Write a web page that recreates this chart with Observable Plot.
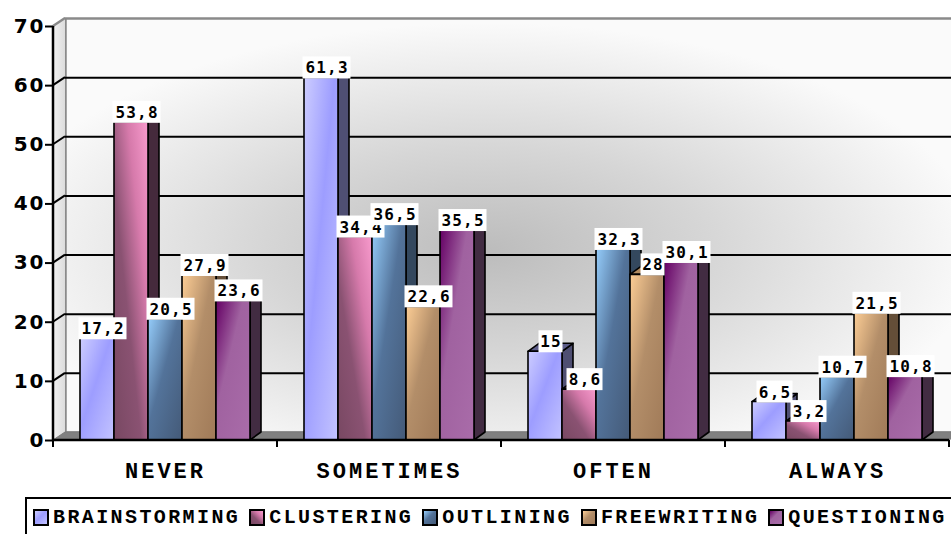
<!DOCTYPE html>
<html>
<head>
<meta charset="utf-8">
<script src="https://cdn.jsdelivr.net/npm/d3@7"></script>
<script src="https://cdn.jsdelivr.net/npm/@observablehq/plot@0.6"></script>
<style>
  html, body { margin: 0; padding: 0; background: #fff; overflow: hidden; width: 951px; height: 534px; }
  #chart svg { display: block; }
  .room [aria-label="y-axis tick label"] text { letter-spacing: 2px; }
  .room [aria-label="fx-axis tick label"] text { letter-spacing: 3px; }
  #legend {
    box-sizing: border-box;
    margin: 3px 0 0 25px;
    width: 960px;
    height: 44px;
    border: 2px solid #000;
    display: flex;
    align-items: flex-start;
    padding: 7px 0 0 6px;
    font: bold 20px "Courier New", "Liberation Mono", monospace;
    letter-spacing: 2.4px;
    color: #000;
    white-space: nowrap;
  }
  #legend .item { display: flex; align-items: center; margin-right: 9px; }
  #legend .swatch { width: 12px; height: 13px; border: 2px solid #000; margin-right: 4px; }
</style>
</head>
<body>
<div id="chart"></div>
<div id="legend"></div>
<script>
// Survey answers: share of students (%) using each prewriting technique
const categories = ["NEVER", "SOMETIMES", "OFTEN", "ALWAYS"];
const series = ["BRAINSTORMING", "CLUSTERING", "OUTLINING", "FREEWRITING", "QUESTIONING"];
const brainstorming = [17.2, 61.3, 15, 6.5];
const clustering = [53.8, 34.4, 8.6, 3.2];
const outlining = [20.5, 36.5, 32.3, 10.7];
const freewriting = [27.9, 22.6, 28, 21.5];
const questioning = [23.6, 35.5, 30.1, 10.8];
const yTicks = [0, 10, 20, 30, 40, 50, 60, 70];

const valuesBySeries = [brainstorming, clustering, outlining, freewriting, questioning];
const rows = categories.flatMap((cat, c) =>
  series.map((s, k) => ({cat, series: s, value: valuesBySeries[k][c]}))
);
const gridTicks = yTicks.slice(1, -1);
const fmt = (v) => String(v).replace(".", ",");

// Shading of each series: gradient on the front face, flat colours on the side and top
const faces = [
  {dir: [0, 0, 1, 1], stops: [[0, "#cdcdff"], [0.45, "#9d9dff"], [1, "#c3c3ff"]], side: "#4f4f73", top: "#5e5e8a"},
  {dir: [1, 0, 0, 1], stops: [[0, "#f89bcd"], [0.3, "#d67aab"], [0.6, "#8a5272"], [1, "#784862"]], side: "#452a3c", top: "#3d2434"},
  {dir: [0, 0, 1, 1], stops: [[0, "#95cdfb"], [0.45, "#53739a"], [1, "#445a78"]], side: "#34485e", top: "#3e5670"},
  {dir: [0, 0, 1, 1], stops: [[0, "#fccd95"], [0.45, "#b38e69"], [1, "#a07a58"]], side: "#644e38", top: "#b08a60"},
  {dir: [0, 0, 1, 1], stops: [[0, "#640064"], [0.4, "#a062a0"], [1, "#a96ca9"]], side: "#422c42", top: "#4a2e4a"}
];

const DX = 12, DY = 8;   // oblique depth of the walls and floor
const BX = 11, BY = 8;   // depth of each column
const svgNS = "http://www.w3.org/2000/svg";
function el(name, attrs = {}) {
  const e = document.createElementNS(svgNS, name);
  for (const k in attrs) e.setAttribute(k, attrs[k]);
  return e;
}
const pts = (p) => p.map((q) => q.join(",")).join(" ");

function gradientDefs() {
  const defs = el("defs");
  faces.forEach((f, k) => {
    const [x1, y1, x2, y2] = f.dir;
    const lg = el("linearGradient", {id: `front-${k}`, x1, y1, x2, y2});
    f.stops.forEach(([o, c]) => lg.appendChild(el("stop", {offset: o, "stop-color": c})));
    defs.appendChild(lg);
  });
  const wall = el("radialGradient", {id: "wall", cx: 0.47, cy: 0.56, r: 0.55});
  [[0, "#bcbcbc"], [0.45, "#d6d6d6"], [1, "#fafafa"]].forEach(([o, c]) =>
    wall.appendChild(el("stop", {offset: o, "stop-color": c})));
  defs.appendChild(wall);
  const side = el("linearGradient", {id: "side-wall", x1: 0, y1: 0, x2: 1, y2: 0});
  [[0, "#f2f2f2"], [1, "#dcdcdc"]].forEach(([o, c]) =>
    side.appendChild(el("stop", {offset: o, "stop-color": c})));
  defs.appendChild(side);
  return defs;
}

// Back wall (the frame, pushed back), left side wall, floor, value axis line
// and the short links from each value tick to its gridline on the back wall
function drawRoom(index, scales, values, dims, context, next) {
  const {width, marginLeft, marginRight} = dims;
  const left = marginLeft, right = width - marginRight;
  const y0 = scales.y(0), yTop = scales.y(yTicks[yTicks.length - 1]);
  const g = el("g");
  g.appendChild(gradientDefs());
  g.appendChild(next(index, scales, values, dims, context));
  g.appendChild(el("polygon", {points: pts([[left, yTop], [left + DX, yTop - DY], [left + DX, y0 - DY], [left, y0]]), fill: "url(#side-wall)"}));
  g.appendChild(el("line", {x1: left, y1: yTop, x2: left + DX, y2: yTop - DY, stroke: "#8a8a8a", "stroke-width": 2.5}));
  g.appendChild(el("polygon", {points: pts([[left, y0], [right, y0], [right + DX, y0 - DY], [left + DX, y0 - DY]]), fill: "#808080", stroke: "#7a7a7a", "stroke-width": 1}));
  for (const v of gridTicks) {
    const y = scales.y(v);
    g.appendChild(el("line", {x1: left, y1: y, x2: left + DX, y2: y - DY, stroke: "#000", "stroke-width": 2}));
  }
  g.appendChild(el("line", {x1: left, y1: yTop, x2: left, y2: y0, stroke: "#000", "stroke-width": 2.5}));
  return g;
}

// Columns: side and top faces added behind each front face
function drawColumns(index, scales, values, dims, context, next) {
  const g = next(index, scales, values, dims, context);
  Array.from(g.querySelectorAll("rect")).forEach((r, k) => {
    const f = faces[series.indexOf(rows[index[k]].series)];
    const x = +r.getAttribute("x"), y = +r.getAttribute("y");
    const w = +r.getAttribute("width"), h = +r.getAttribute("height");
    const side = el("polygon", {points: pts([[x + w, y], [x + w + BX, y - BY], [x + w + BX, y + h - BY], [x + w, y + h]]), fill: f.side});
    const top = el("polygon", {points: pts([[x, y], [x + BX, y - BY], [x + w + BX, y - BY], [x + w, y]]), fill: f.top});
    r.before(side, top);
  });
  return g;
}

// Value labels in white boxes sitting on top of each column
function drawLabels(index, scales, values, dims, context, next) {
  const g = next(index, scales, values, dims, context);
  Array.from(g.querySelectorAll("rect")).forEach((r, k) => {
    const text = fmt(rows[index[k]].value);
    const x = +r.getAttribute("x"), y = +r.getAttribute("y"), w = +r.getAttribute("width");
    const cx = x + w / 2 + BX / 2;
    const bw = text.length * 12, bh = 22;
    const box = el("rect", {x: cx - bw / 2, y: y - bh + 1, width: bw, height: bh, fill: "#fff", stroke: "none"});
    const t = el("text", {
      x: cx + 0.6, y: y - 4, "text-anchor": "middle", fill: "#000", stroke: "none",
      "font-family": "DejaVu Sans Mono, monospace", "font-weight": "bold", "font-size": 16, "letter-spacing": 1.2
    });
    t.textContent = text;
    r.replaceWith(box);
    box.after(t);
  });
  return g;
}

// Category axis line with ticks on the category boundaries
function drawBaseline(index, scales, values, dims, context) {
  const {width, marginLeft, marginRight} = dims;
  const g = el("g");
  const fx = scales.fx, y0 = scales.y(0);
  g.appendChild(el("line", {x1: marginLeft, y1: y0, x2: width - marginRight, y2: y0, stroke: "#000", "stroke-width": 2.5}));
  const edges = categories.map((c) => fx(c)).concat(fx(categories[categories.length - 1]) + fx.bandwidth());
  for (const e of edges) g.appendChild(el("line", {x1: e, y1: y0, x2: e, y2: y0 + 7, stroke: "#000", "stroke-width": 2}));
  return g;
}

const chart = Plot.plot({
  width: 951,
  height: 494,
  marginTop: 26,
  marginLeft: 52,
  marginRight: 1,
  marginBottom: 54,
  className: "room",
  style: {background: "#fff", color: "#000"},
  fx: {domain: categories, padding: 0},
  x: {domain: series, paddingInner: 0, paddingOuter: 0.75, axis: null},
  y: {domain: [0, 70]},
  color: {domain: series, range: series.map((s, k) => `url(#front-${k})`)},
  marks: [
    Plot.frame({facet: "super", fill: "url(#wall)", stroke: "#8a8a8a", strokeWidth: 2.5, dx: DX, dy: -DY, render: drawRoom}),
    Plot.ruleY(gridTicks, {dx: DX, dy: -DY, stroke: "#000", strokeWidth: 2}),
    Plot.barY(rows, {fx: "cat", x: "series", y: "value", fill: "series", stroke: "#000", strokeWidth: 1.6, strokeLinejoin: "round", render: drawColumns}),
    Plot.barY(rows, {fx: "cat", x: "series", y: "value", render: drawLabels}),
    Plot.frame({facet: "super", render: drawBaseline}),
    Plot.axisY({ticks: yTicks, tickSize: 8, tickPadding: 0, stroke: "#000", strokeWidth: 2, fontSize: 20, fontWeight: "bold", fontFamily: "DejaVu Sans, Verdana, sans-serif", label: null}),
    Plot.axisFx({anchor: "bottom", tickSize: 0, tickPadding: 22, fontSize: 22, fontWeight: "bold", fontFamily: "Courier New, Liberation Mono, monospace", label: null})
  ]
});
document.getElementById("chart").appendChild(chart);

// Legend row under the chart
const legend = document.getElementById("legend");
series.forEach((s, k) => {
  const f = faces[k];
  const angle = f.dir[0] === 1 ? 225 : 135;
  const item = document.createElement("div");
  item.className = "item";
  const sw = document.createElement("span");
  sw.className = "swatch";
  sw.style.background = `linear-gradient(${angle}deg, ${f.stops.map(([o, c]) => `${c} ${o * 100}%`).join(", ")})`;
  const label = document.createElement("span");
  label.textContent = s;
  item.append(sw, label);
  legend.appendChild(item);
});
</script>
</body>
</html>
